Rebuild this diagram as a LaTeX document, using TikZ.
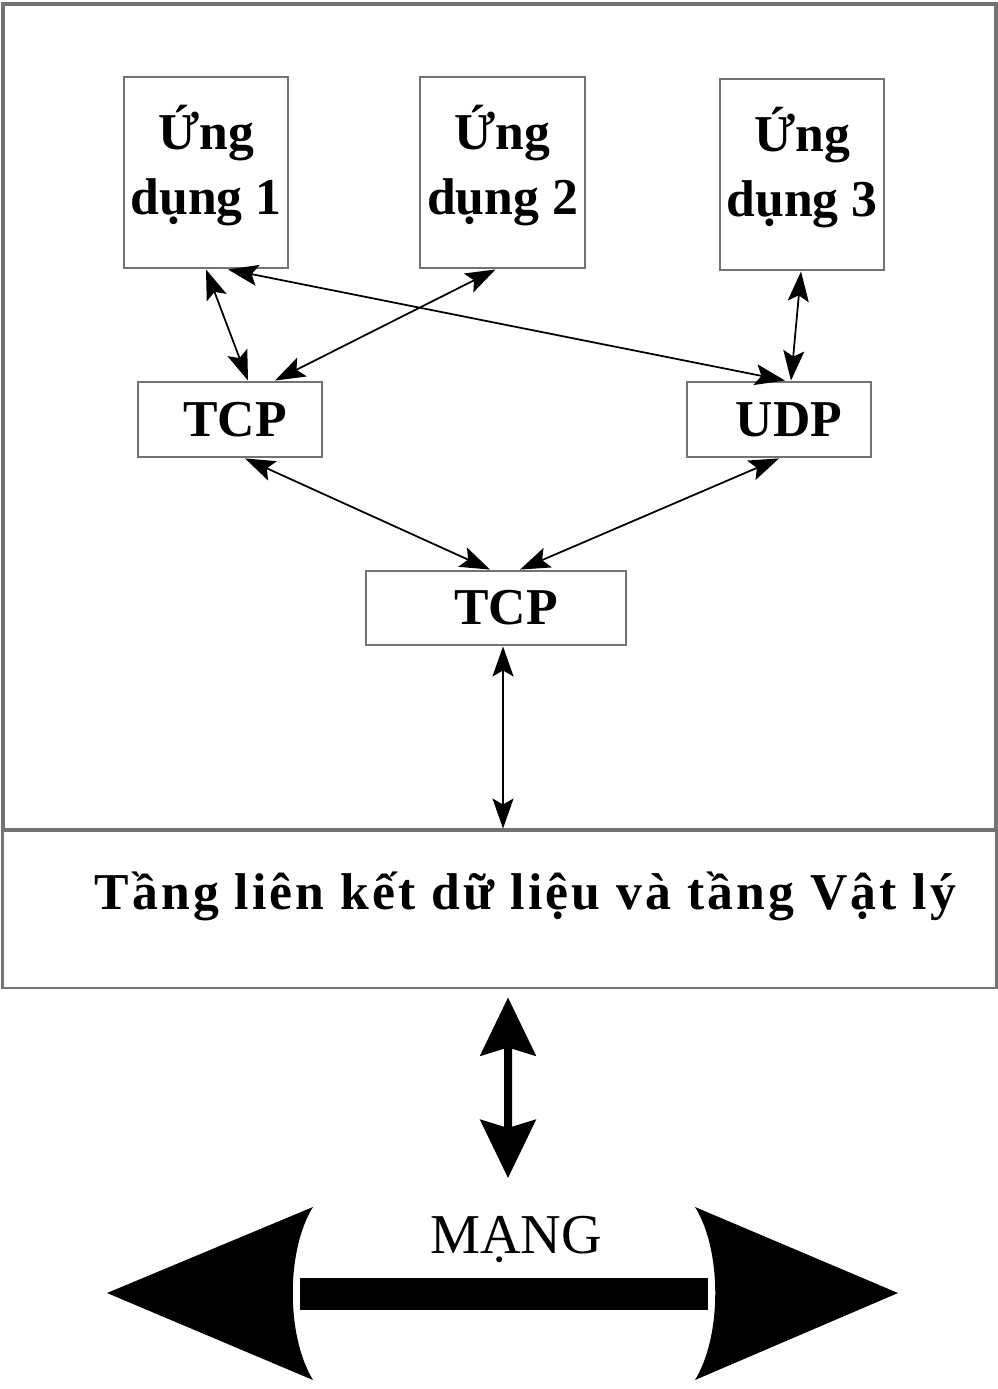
\documentclass[tikz,border=0pt]{standalone}
\usepackage{fontspec}
\setmainfont{Liberation Serif}
\usetikzlibrary{arrows.meta}
\tikzset{
  hopbox/.style={draw=black!55, line width=0.8pt, inner sep=0pt, align=center,
    font=\fontsize{14.7}{18.5}\selectfont\bfseries},
  link/.style={line width=0.5pt, {Stealth[length=0.30cm,width=0.21cm,inset=0.06cm]}-{Stealth[length=0.30cm,width=0.21cm,inset=0.06cm]}},
  biglink/.style={line width=0.08cm, {Stealth[length=0.58cm,width=0.55cm,inset=0.08cm]}-{Stealth[length=0.58cm,width=0.55cm,inset=0.08cm]}}
}

\begin{document}
\begin{tikzpicture}[x=0.01cm,y=-0.01cm]
\useasboundingbox (0,0) rectangle (998,1389);
\draw[black!55, line width=0.9pt] (3,4) rectangle (996,830);

\node[hopbox, minimum width=1.64cm, minimum height=1.91cm] (ud1) at (206,172.5) {Ứng\\dụng 1\\[-0.39cm]};
\node[hopbox, minimum width=1.65cm, minimum height=1.91cm] (ud2) at (502.5,172.5) {Ứng\\dụng 2\\[-0.39cm]};
\node[hopbox, minimum width=1.64cm, minimum height=1.91cm] (ud3) at (802,174.5) {Ứng\\dụng 3\\[-0.39cm]};
\node[hopbox, minimum width=1.84cm, minimum height=0.75cm] (tcp) at (230,419.5) {\hspace*{0.1cm}TCP};
\node[hopbox, minimum width=1.84cm, minimum height=0.75cm] (udp) at (779,419.5) {\hspace*{0.2cm}UDP};
\node[hopbox, minimum width=2.60cm, minimum height=0.74cm] (ip) at (496,608) {\hspace*{0.2cm}TCP};
\node[hopbox, minimum width=9.93cm, minimum height=1.58cm] (dl) at (499.5,909) {};
\node[font=\fontsize{14.7}{18}\selectfont\bfseries\addfontfeature{LetterSpace=6}] (dltext)
  at ([xshift=0.26cm, yshift=0.13cm]dl.center) {Tầng liên kết dữ liệu và tầng Vật lý};

\draw[link] (ud1.south) -- ([xshift=0.18cm]tcp.north);
\draw[link] ([xshift=0.22cm]ud1.south) -- ([xshift=0.06cm]udp.north);
\draw[link] ([xshift=-0.07cm]ud2.south) -- ([xshift=0.45cm]tcp.north);
\draw[link] ([xshift=-0.01cm]ud3.south) -- ([xshift=0.12cm]udp.north);
\draw[link] ([xshift=0.15cm]tcp.south) -- ([xshift=-0.06cm]ip.north);
\draw[link] (udp.south) -- ([xshift=0.24cm]ip.north);
\draw[link] ([xshift=0.07cm]ip.south) -- ([xshift=0.07cm]ip.south |- dl.north);

\coordinate (netin) at (508,1178);
\draw[biglink] ([xshift=0.085cm, yshift=-0.08cm]dl.south) -- (netin);

\node[font=\fontsize{16}{19}\selectfont] (mang) at (516,1240) {MẠNG};
\fill (107,1293) -- (313,1207) .. controls (286,1250) and (286,1336) .. (313,1380) -- cycle;
\fill (300,1278) rectangle (708,1310);
\fill (898,1293) -- (695,1207) .. controls (722,1250) and (722,1336) .. (695,1380) -- cycle;
\end{tikzpicture}
\end{document}
